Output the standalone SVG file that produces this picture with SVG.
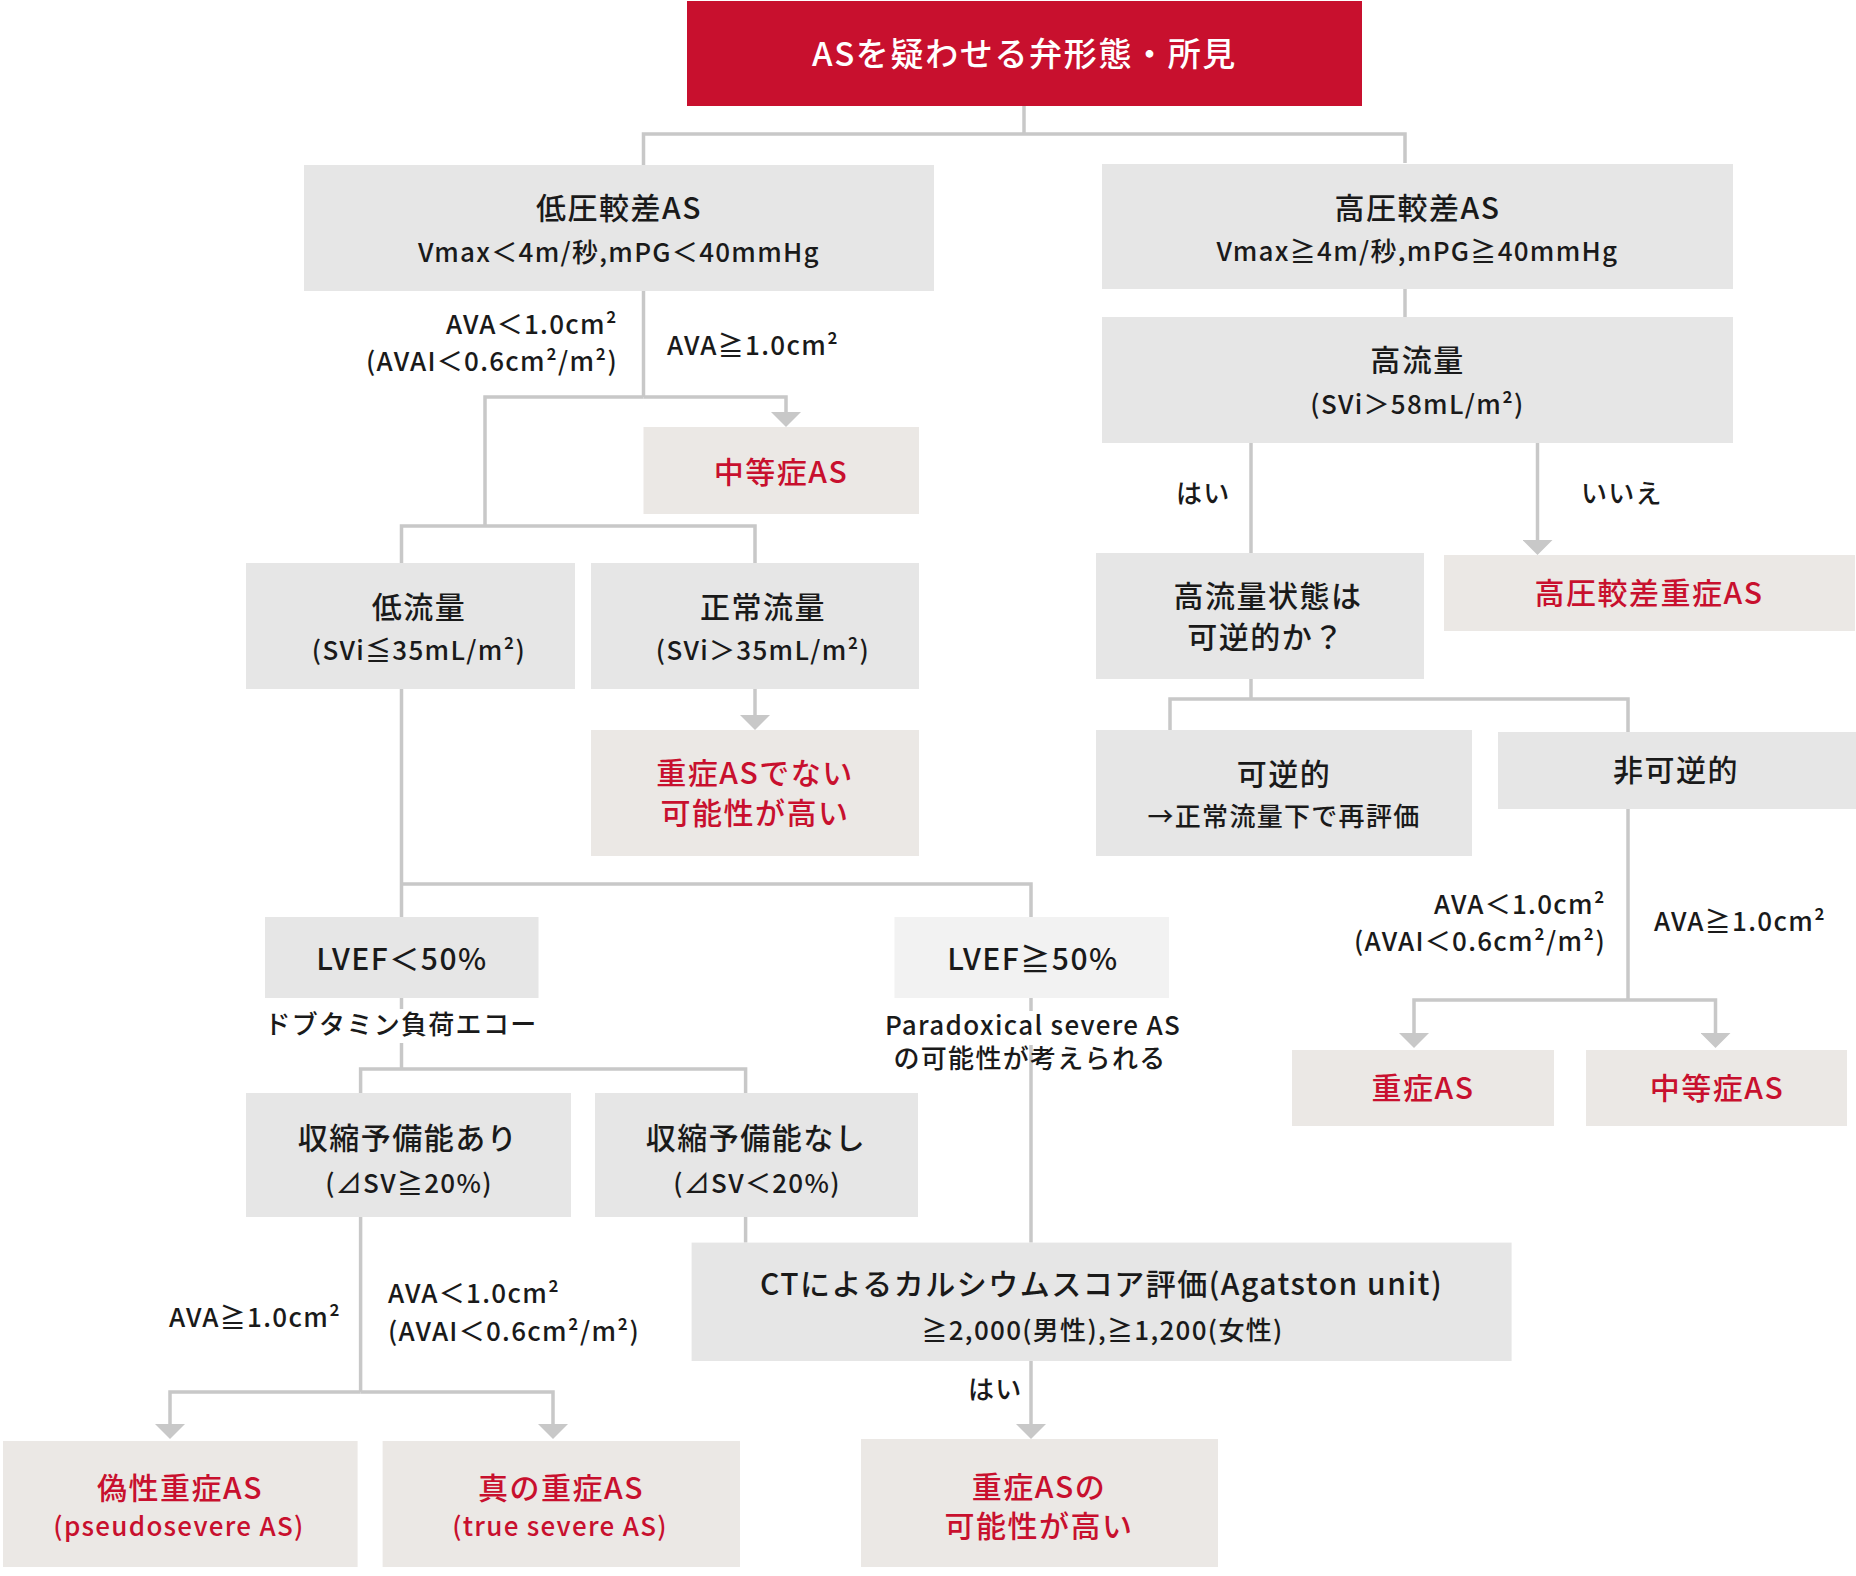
<svg xmlns="http://www.w3.org/2000/svg" width="1856" height="1576" viewBox="0 0 1856 1576">
<defs>
<style>
.box{fill:#e6e6e6}
.res{fill:#ebe8e5}
.light{fill:#f2f2f2}
text{font-family:"Noto Sans CJK JP","Noto Sans",sans-serif;fill:#1a1a1a;letter-spacing:0.05em;font-weight:500}
.t{font-size:30px;text-anchor:middle}
.s{font-size:26px;text-anchor:middle}
.r{fill:#c8102e}
.lab{font-size:26px}
.end{text-anchor:end}
.mid{text-anchor:middle}
.conn{fill:none;stroke:#c8c8c8;stroke-width:3.5}
</style>
<marker id="ah" markerUnits="userSpaceOnUse" viewBox="0 0 15 30" markerWidth="15" markerHeight="30" refX="0" refY="15" orient="auto">
<path d="M0,0 L15,15 L0,30 Z" fill="#c8c8c8"/>
</marker>
</defs>
<rect width="1856" height="1576" fill="#ffffff"/>

<g id="connectors">
<path class="conn" d="M1024,106 V134"/>
<path class="conn" d="M643.5,165 V134 H1405 V163"/>
<path class="conn" d="M1405,289 V317"/>
<path class="conn" d="M1251,443 V553"/>
<path class="conn" d="M1537.5,443 V540" marker-end="url(#ah)"/>
<path class="conn" d="M1251,679 V699"/>
<path class="conn" d="M1170,730 V699 H1628 V732"/>
<path class="conn" d="M1628,809 V1000"/>
<path class="conn" d="M1628,1000 H1414 V1033" marker-end="url(#ah)"/>
<path class="conn" d="M1628,1000 H1715.5 V1033" marker-end="url(#ah)"/>
<path class="conn" d="M643.5,291 V397"/>
<path class="conn" d="M643.5,397 H485 V526"/>
<path class="conn" d="M643.5,397 H786 V412" marker-end="url(#ah)"/>
<path class="conn" d="M401.5,563 V526 H755 V563"/>
<path class="conn" d="M755,689 V715" marker-end="url(#ah)"/>
<path class="conn" d="M401.5,689 V917"/>
<path class="conn" d="M401.5,884 H1031 V917"/>
<path class="conn" d="M401.5,998 V1009"/>
<path class="conn" d="M401.5,1043 V1069"/>
<path class="conn" d="M360.6,1093 V1069 H745.6 V1093"/>
<path class="conn" d="M1031,998 V1011"/>
<path class="conn" d="M1031,1045 V1242.6"/>
<path class="conn" d="M745.6,1217 V1242.6"/>
<path class="conn" d="M1031,1361 V1424" marker-end="url(#ah)"/>
<path class="conn" d="M360.6,1217 V1392"/>
<path class="conn" d="M360.6,1392 H170 V1424" marker-end="url(#ah)"/>
<path class="conn" d="M360.6,1392 H553 V1424" marker-end="url(#ah)"/>
</g>

<g id="labels">
<text class="lab end" x="618" y="334">AVA＜1.0cm²</text>
<text class="lab end" x="618" y="371">(AVAI＜0.6cm²/m²)</text>
<text class="lab" x="667" y="355">AVA≧1.0cm²</text>
<text class="lab" x="1176" y="503">はい</text>
<text class="lab" x="1581" y="503">いいえ</text>
<text class="lab end" x="1606" y="914">AVA＜1.0cm²</text>
<text class="lab end" x="1606" y="951">(AVAI＜0.6cm²/m²)</text>
<text class="lab" x="1654" y="931">AVA≧1.0cm²</text>
<text class="lab mid" x="401" y="1034">ドブタミン負荷エコー</text>
<text class="lab mid" x="1033" y="1035">Paradoxical severe AS</text>
<text class="lab mid" x="1030" y="1068">の可能性が考えられる</text>
<text class="lab" x="169" y="1327">AVA≧1.0cm²</text>
<text class="lab" x="388" y="1303">AVA＜1.0cm²</text>
<text class="lab" x="388" y="1341">(AVAI＜0.6cm²/m²)</text>
<text class="lab" x="968" y="1399">はい</text>
</g>

<g id="n-title">
<rect x="687" y="1" width="675" height="105" fill="#c8102e"/>
<text class="mid" x="1024.5" y="66" style="font-size:33px;fill:#ffffff">ASを疑わせる弁形態・所見</text>
</g>
<g id="n-low-gradient">
<rect class="box" x="304" y="165" width="630" height="126"/>
<text class="t" x="619" y="219">低圧較差AS</text>
<text class="s" x="619" y="262">Vmax＜4m/秒,mPG＜40mmHg</text>
</g>
<g id="n-high-gradient">
<rect class="box" x="1102" y="164" width="631" height="125"/>
<text class="t" x="1417.5" y="219">高圧較差AS</text>
<text class="s" x="1417.5" y="261">Vmax≧4m/秒,mPG≧40mmHg</text>
</g>
<g id="n-high-flow">
<rect class="box" x="1102" y="317" width="631" height="126"/>
<text class="t" x="1417.5" y="371">高流量</text>
<text class="s" x="1417.5" y="414">(SVi＞58mL/m²)</text>
</g>
<g id="n-moderate-1">
<rect class="res" x="643.5" y="427" width="275.5" height="87"/>
<text class="t r" x="781" y="483">中等症AS</text>
</g>
<g id="n-low-flow">
<rect class="box" x="246" y="563" width="329" height="126"/>
<text class="t" x="419" y="618">低流量</text>
<text class="s" x="419" y="660">(SVi≦35mL/m²)</text>
</g>
<g id="n-normal-flow">
<rect class="box" x="591" y="563" width="328" height="126"/>
<text class="t" x="763" y="618">正常流量</text>
<text class="s" x="763" y="660">(SVi＞35mL/m²)</text>
</g>
<g id="n-not-severe">
<rect class="res" x="591" y="730" width="328" height="126"/>
<text class="t r" x="755" y="784">重症ASでない</text>
<text class="t r" x="755" y="824">可能性が高い</text>
</g>
<g id="n-high-flow-reversible">
<rect class="box" x="1096" y="553" width="328" height="126"/>
<text class="t" x="1268" y="607">高流量状態は</text>
<text class="t" x="1266" y="648">可逆的か？</text>
</g>
<g id="n-high-gradient-severe">
<rect class="res" x="1444" y="555" width="411" height="76"/>
<text class="t r" x="1649" y="604">高圧較差重症AS</text>
</g>
<g id="n-reversible">
<rect class="box" x="1096" y="730" width="376" height="126"/>
<text class="t" x="1284" y="785">可逆的</text>
<text class="s" x="1284" y="826">→正常流量下で再評価</text>
</g>
<g id="n-irreversible">
<rect class="box" x="1498" y="732" width="358" height="77"/>
<text class="t" x="1676" y="781">非可逆的</text>
</g>
<g id="n-severe-2">
<rect class="res" x="1292" y="1050" width="262" height="76"/>
<text class="t r" x="1423" y="1099">重症AS</text>
</g>
<g id="n-moderate-2">
<rect class="res" x="1586" y="1050" width="261" height="76"/>
<text class="t r" x="1717" y="1099">中等症AS</text>
</g>
<g id="n-lvef-low">
<rect class="box" x="265" y="917" width="273.5" height="81"/>
<text class="t" x="402" y="970">LVEF＜50%</text>
</g>
<g id="n-lvef-normal">
<rect class="light" x="894.5" y="917" width="274.5" height="81"/>
<text class="t" x="1033" y="970">LVEF≧50%</text>
</g>
<g id="n-reserve-yes">
<rect class="box" x="246" y="1093" width="325" height="124"/>
<text class="t" x="408" y="1149">収縮予備能あり</text>
<text class="s" x="409" y="1193">(⊿SV≧20%)</text>
</g>
<g id="n-reserve-no">
<rect class="box" x="595" y="1093" width="323" height="124"/>
<text class="t" x="756" y="1149">収縮予備能なし</text>
<text class="s" x="757" y="1193">(⊿SV＜20%)</text>
</g>
<g id="n-ct">
<rect class="box" x="691.6" y="1242.6" width="820" height="118.4"/>
<text class="t" x="1101.5" y="1295">CTによるカルシウムスコア評価(Agatston unit)</text>
<text class="s" x="1102.5" y="1340">≧2,000(男性),≧1,200(女性)</text>
</g>
<g id="n-pseudo">
<rect class="res" x="3" y="1441" width="354.6" height="126"/>
<text class="t r" x="180" y="1499">偽性重症AS</text>
<text class="s r" x="179" y="1536">(pseudosevere AS)</text>
</g>
<g id="n-true">
<rect class="res" x="382.6" y="1441" width="357.4" height="126"/>
<text class="t r" x="561" y="1499">真の重症AS</text>
<text class="s r" x="560" y="1536">(true severe AS)</text>
</g>
<g id="n-severe-likely">
<rect class="res" x="861" y="1439" width="357" height="128"/>
<text class="t r" x="1039" y="1498">重症ASの</text>
<text class="t r" x="1039" y="1537">可能性が高い</text>
</g>
</svg>
